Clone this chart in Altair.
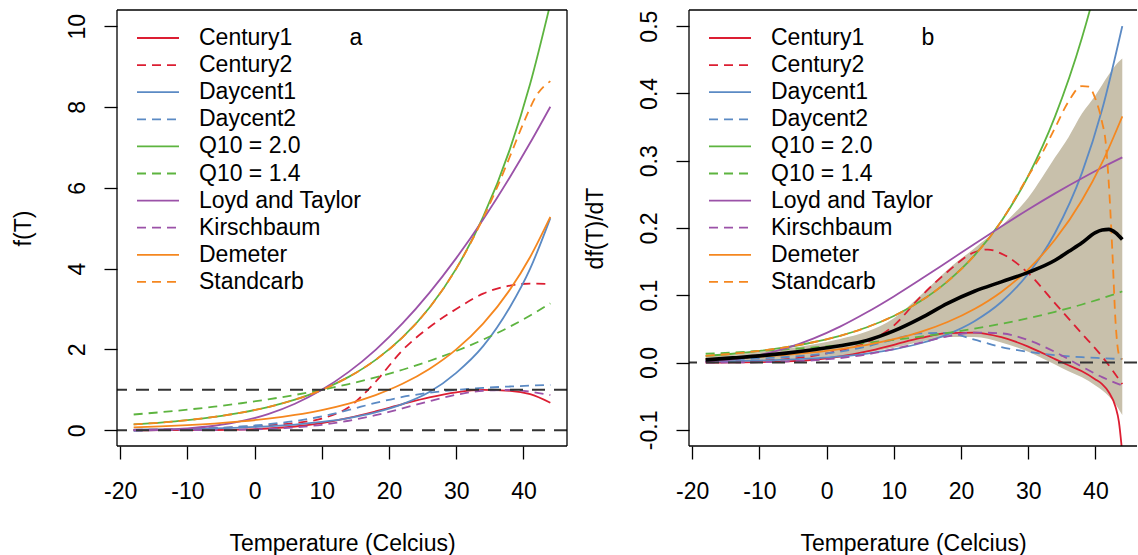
import altair as alt
import pandas as pd

FONT = "Liberation Sans"
FS = 23

# ---------------- series definitions ----------------
NAMES = ["Century1", "Century2", "Daycent1", "Daycent2", "Q10 = 2.0", "Q10 = 1.4",
         "Loyd and Taylor", "Kirschbaum", "Demeter", "Standcarb"]
COLORS = ["#DC1E32", "#DC1E32", "#5B8AC4", "#5B8AC4", "#5DB43F", "#5DB43F",
          "#9B52A8", "#9B52A8", "#F5871F", "#F5871F"]
DASHED = [False, True, False, True, False, True, False, True, False, True]

# ---------------- panel a : f(T) ----------------
GA = [-18, -14, -10, -6, -2, 2, 6, 10, 14, 18, 22, 26, 30, 34, 38, 41, 44]
century1_a = [0.0001, 0.0005, 0.0018, 0.006, 0.017, 0.043, 0.093, 0.178, 0.305, 0.467, 0.646, 0.813, 0.938, 0.997, 0.975, 0.892, 0.68]
century2_a = [0.01, 0.02, 0.03, 0.05, 0.08, 0.12, 0.18, 0.29, 0.57, 1.2, 1.98, 2.55, 3.0, 3.38, 3.58, 3.63, 3.62]
daycent1_a = [0.014, 0.021, 0.031, 0.045, 0.066, 0.096, 0.14, 0.206, 0.301, 0.441, 0.645, 0.944, 1.42, 2.08, 3.05, 4.0, 5.25]
daycent2_a = [-0.013, 0.004, 0.025, 0.054, 0.093, 0.148, 0.228, 0.344, 0.502, 0.676, 0.823, 0.927, 0.998, 1.048, 1.083, 1.104, 1.12]
q10_20_a = [0.144, 0.19, 0.25, 0.33, 0.435, 0.574, 0.758, 1.0, 1.32, 1.741, 2.297, 3.031, 4.0, 5.278, 6.964, 8.574, 10.556]
q10_14_a = [0.39, 0.446, 0.51, 0.584, 0.668, 0.764, 0.874, 1.0, 1.144, 1.309, 1.497, 1.713, 1.96, 2.242, 2.565, 2.838, 3.14]
lloyd_a = [0.004, 0.016, 0.047, 0.111, 0.223, 0.399, 0.655, 1.0, 1.444, 1.99, 2.642, 3.4, 4.26, 5.218, 6.269, 7.114, 8.007]
kirsch_a = [0.0002, 0.0008, 0.0023, 0.0062, 0.0153, 0.0345, 0.0714, 0.135, 0.235, 0.373, 0.541, 0.72, 0.877, 0.977, 0.997, 0.954, 0.87]
demeter_a = [0.072, 0.095, 0.125, 0.165, 0.218, 0.287, 0.379, 0.5, 0.66, 0.871, 1.149, 1.516, 2.0, 2.639, 3.482, 4.287, 5.278]
GA_STAND = [-18, -14, -10, -6, -2, 2, 6, 10, 14, 18, 22, 26, 30, 34, 36, 38, 40, 42, 44]
standcarb_a = [0.144, 0.19, 0.25, 0.33, 0.435, 0.574, 0.758, 1.0, 1.32, 1.741, 2.297, 3.031, 4.0, 5.25, 5.98, 6.78, 7.6, 8.3, 8.64]

# ---------------- panel b : df(T)/dT ----------------
GB = [-18, -14, -10, -6, -2, 2, 6, 10, 14, 18, 22, 26, 30, 34, 38, 41, 44]
GB_C1 = [-18, -14, -10, -6, -2, 2, 6, 10, 14, 18, 22, 26, 30, 34, 36, 38, 40, 41, 42, 43, 43.5, 44]
century1_b = [0.0001, 0.0002, 0.0006, 0.0017, 0.0042, 0.009, 0.0166, 0.0264, 0.0366, 0.0437, 0.0446, 0.0377, 0.0238, 0.0052, -0.004, -0.013, -0.025, -0.032, -0.044, -0.066, -0.088, -0.135]
GB_C2 = [-18, -14, -10, -6, -2, 2, 6, 10, 14, 18, 22, 24, 26, 30, 34, 38, 41, 44]
century2_b = [0.001, 0.002, 0.003, 0.005, 0.01, 0.018, 0.03, 0.055, 0.098, 0.135, 0.164, 0.168, 0.162, 0.133, 0.088, 0.043, 0.009, -0.032]
daycent1_b = [0.0014, 0.002, 0.0029, 0.0043, 0.0062, 0.0091, 0.0134, 0.0196, 0.0287, 0.042, 0.0615, 0.09, 0.132, 0.193, 0.282, 0.376, 0.50]
daycent2_b = [0.0038, 0.0048, 0.0062, 0.0083, 0.0114, 0.0163, 0.024, 0.0346, 0.0434, 0.044, 0.034, 0.023, 0.016, 0.011, 0.008, 0.0065, 0.0052]
q10_20_b = [0.00995, 0.0131, 0.0173, 0.0229, 0.0302, 0.0398, 0.0525, 0.0693, 0.0915, 0.1207, 0.1592, 0.2101, 0.2773, 0.3658, 0.4827, 0.5943, 0.7317]
q10_14_b = [0.0131, 0.015, 0.0172, 0.0196, 0.0225, 0.0257, 0.0294, 0.0337, 0.0385, 0.044, 0.0504, 0.0576, 0.066, 0.0754, 0.0863, 0.0955, 0.1057]
lloyd_b = [0.0016, 0.0049, 0.0112, 0.0213, 0.0355, 0.0534, 0.0747, 0.0983, 0.1237, 0.1499, 0.1762, 0.2022, 0.2275, 0.2515, 0.274, 0.2899, 0.3049]
kirsch_b = [0.0001, 0.0002, 0.0006, 0.0015, 0.0033, 0.0067, 0.0122, 0.0201, 0.0297, 0.0389, 0.0446, 0.0434, 0.0334, 0.0157, -0.0061, -0.0216, -0.0342]
demeter_b = [0.005, 0.0066, 0.0087, 0.0114, 0.0151, 0.0199, 0.0263, 0.0347, 0.0457, 0.0603, 0.0796, 0.105, 0.1386, 0.1829, 0.2413, 0.2971, 0.3658]
GB_ST = [-18, -14, -10, -6, -2, 2, 6, 10, 14, 18, 22, 26, 30, 32, 34, 36, 38, 39, 40, 41, 41.5, 42, 42.5, 43, 43.5, 44]
standcarb_b = [0.00995, 0.0131, 0.0173, 0.0229, 0.0302, 0.0398, 0.0525, 0.0693, 0.0915, 0.1207, 0.1592, 0.2101, 0.2773, 0.31, 0.349, 0.388, 0.411, 0.41, 0.392, 0.357, 0.33, 0.265, 0.17, 0.06, 0.012, 0.005]

GB_MEAN = [-18, -14, -10, -6, -2, 2, 6, 10, 14, 18, 22, 26, 30, 34, 36, 38, 40, 41, 42, 43, 44]
mean_b = [0.004, 0.007, 0.01, 0.014, 0.019, 0.025, 0.033, 0.047, 0.066, 0.088, 0.106, 0.12, 0.134, 0.152, 0.165, 0.178, 0.193, 0.197, 0.198, 0.193, 0.183]
GB_BAND = [-18, -14, -10, -6, -2, 2, 6, 10, 14, 18, 22, 26, 30, 34, 36, 38, 40, 42, 43, 44]
band_hi = [0.009, 0.012, 0.016, 0.021, 0.027, 0.035, 0.046, 0.066, 0.1, 0.138, 0.17, 0.203, 0.245, 0.305, 0.335, 0.37, 0.397, 0.428, 0.442, 0.452]
band_lo = [0.0, 0.001, 0.002, 0.004, 0.007, 0.01, 0.015, 0.022, 0.031, 0.038, 0.038, 0.03, 0.016, -0.003, -0.013, -0.022, -0.034, -0.05, -0.062, -0.078]

SERIES_A = [(GA, century1_a), (GA, century2_a), (GA, daycent1_a), (GA, daycent2_a),
            (GA, q10_20_a), (GA, q10_14_a), (GA, lloyd_a), (GA, kirsch_a),
            (GA, demeter_a), (GA_STAND, standcarb_a)]
SERIES_B = [(GB_C1, century1_b), (GB_C2, century2_b), (GB, daycent1_b), (GB, daycent2_b),
            (GB, q10_20_b), (GB, q10_14_b), (GB, lloyd_b), (GB, kirsch_b),
            (GB, demeter_b), (GB_ST, standcarb_b)]

HLINES_A = [0, 1]
HLINES_B = [0]

X_TICKS = [-20, -10, 0, 10, 20, 30, 40]
YA_TICKS = [0, 2, 4, 6, 8, 10]
YB_TICKS = [-0.1, 0.0, 0.1, 0.2, 0.3, 0.4, 0.5]

H = 436
W_A = 450
W_B = 448
DASH = [9, 6]
REF_DASH = [13, 9]
LW = 1.8


def panel(series, width, xdom, ydom, yticks, ylabel_expr, ytitle, letter,
          hlines, band=None, mean=None, right_edge=True):
    xaxis = alt.Axis(values=X_TICKS,
                     labelExpr="datum.value < 0 ? '-' + format(-datum.value, 'd') : format(datum.value, 'd')",
                     domain=False, grid=False, ticks=True, tickSize=13, tickWidth=1.3,
                     tickColor="black", labelFont=FONT, labelFontSize=FS, labelColor="black",
                     labelBaseline="alphabetic", labelPadding=39, labelAngle=0,
                     labelFlush=False, labelOverlap=False,
                     titleFont=FONT, titleFontSize=FS, titleFontWeight="normal",
                     titleColor="black", titleX=width / 2, titleY=104,
                     titleBaseline="alphabetic", titleAlign="center")
    yaxis = alt.Axis(values=yticks, labelExpr=ylabel_expr,
                     domain=False, grid=False, ticks=True, tickSize=13, tickWidth=1.3,
                     tickColor="black", labelFont=FONT, labelFontSize=FS, labelColor="black",
                     labelAngle=270, labelAlign="center", labelBaseline="alphabetic",
                     labelPadding=20, labelFlush=False, labelOverlap=False,
                     titleFont=FONT, titleFontSize=FS, titleFontWeight="normal",
                     titleColor="black", titleAngle=270, titleX=-87, titleY=H / 2,
                     titleBaseline="alphabetic", titleAlign="center")
    X = alt.X("T:Q", scale=alt.Scale(domain=xdom, nice=False, zero=False),
              axis=xaxis, title="Temperature (Celcius)")
    Y = alt.Y("v:Q", scale=alt.Scale(domain=ydom, nice=False, zero=False),
              axis=yaxis, title=ytitle)

    layers = []
    if band is not None:
        bx, blo, bhi = band
        bdf = pd.DataFrame({"T": bx, "v": blo, "hi": bhi})
        layers.append(
            alt.Chart(bdf).mark_area(color="#C8C0AB", opacity=1, interpolate="monotone", clip=True)
            .encode(x=X, y=Y, y2="hi:Q"))

    for (xs, ys), col, dashed in zip(series, COLORS, DASHED):
        df = pd.DataFrame({"T": xs, "v": ys})
        kw = dict(color=col, strokeWidth=LW, interpolate="monotone", clip=True)
        if dashed:
            kw["strokeDash"] = DASH
        layers.append(alt.Chart(df).mark_line(**kw).encode(x=X, y=Y))

    hdf = pd.DataFrame({"v": hlines})
    layers.append(alt.Chart(hdf).mark_rule(color="#333333", strokeWidth=2, strokeDash=REF_DASH)
                  .encode(y=Y))

    if mean is not None:
        mx, my = mean
        mdf = pd.DataFrame({"T": mx, "v": my})
        layers.append(alt.Chart(mdf).mark_line(color="black", strokeWidth=3.6,
                                               interpolate="monotone", clip=True)
                      .encode(x=X, y=Y))

    # legend (inside plot, no box)
    one = alt.Data(values=[{"k": 0}])
    for i, (name, col, dashed) in enumerate(zip(NAMES, COLORS, DASHED)):
        yy = 28 + 27.1 * i
        kw = dict(color=col, strokeWidth=LW)
        if dashed:
            kw["strokeDash"] = DASH
        layers.append(alt.Chart(one).mark_rule(**kw).encode(
            x=alt.value(20), x2=alt.value(62), y=alt.value(yy)))
        layers.append(alt.Chart(one).mark_text(
            text=name, font=FONT, fontSize=FS, color="black", align="left",
            baseline="middle").encode(x=alt.value(82), y=alt.value(yy)))
    layers.append(alt.Chart(one).mark_text(
        text=letter, font=FONT, fontSize=FS, color="black", align="center",
        baseline="middle").encode(x=alt.value(239), y=alt.value(28)))

    # frame
    fkw = dict(color="black", strokeWidth=1.3)
    layers.append(alt.Chart(one).mark_rule(**fkw).encode(
        x=alt.value(0), x2=alt.value(width), y=alt.value(0)))
    layers.append(alt.Chart(one).mark_rule(**fkw).encode(
        x=alt.value(0), x2=alt.value(width), y=alt.value(H)))
    layers.append(alt.Chart(one).mark_rule(**fkw).encode(
        x=alt.value(0), y=alt.value(0), y2=alt.value(H)))
    if right_edge:
        layers.append(alt.Chart(one).mark_rule(**fkw).encode(
            x=alt.value(width), y=alt.value(0), y2=alt.value(H)))

    return alt.layer(*layers).properties(width=width, height=H)


pa = panel(SERIES_A, W_A, [-20.48, 46.48], [-0.39, 10.4], YA_TICKS,
           "datum.value < 0 ? '-' + format(-datum.value, 'd') : format(datum.value, 'd')",
           "f(T)", "a", HLINES_A)
pb = panel(SERIES_B, W_B, [-20.48, 46.19], [-0.124, 0.524], YB_TICKS,
           "datum.value < -0.0001 ? '-' + format(-datum.value, '.1f') : format(abs(datum.value), '.1f')",
           "df(T)/dT", "b", HLINES_B,
           band=(GB_BAND, band_lo, band_hi), mean=(GB_MEAN, mean_b), right_edge=False)

chart = alt.hconcat(pa, pb, spacing=122, bounds="flush").properties(
    padding={"left": 12, "top": 9, "right": 0, "bottom": 0},
    background="white",
).configure_view(stroke=None)

chart.save("out.html", embed_options={"renderer": "svg", "actions": False})
